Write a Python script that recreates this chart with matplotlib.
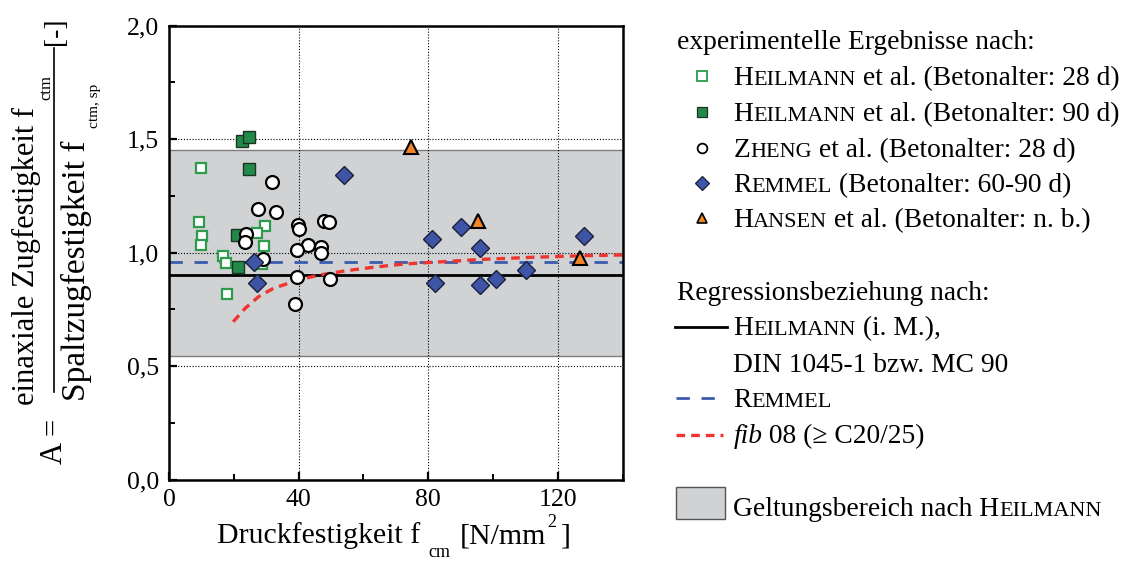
import matplotlib
matplotlib.use('Agg')
import matplotlib.pyplot as plt
from matplotlib.ticker import MultipleLocator, FixedLocator, FixedFormatter
from matplotlib.patches import Rectangle

plt.rcParams['font.family'] = ['Liberation Serif', 'DejaVu Serif']

# ---------------- data ----------------
heil28_x = [9.8, 9.4, 10.2, 10.0, 29.7, 27.2, 29.2, 16.7, 17.6, 28.6, 17.8]
heil28_y = [1.371, 1.134, 1.073, 1.032, 1.118, 1.085, 1.027, 0.986, 0.952, 0.949, 0.817]

heil90_x = [22.5, 24.7, 24.6, 21.1, 21.3]
heil90_y = [1.491, 1.510, 1.367, 1.076, 0.935]

zheng_x = [31.8, 27.4, 32.9, 23.7, 23.5, 39.7, 40.0, 47.7, 49.5, 42.9, 46.9, 46.8, 39.4, 29.0, 39.6, 49.7, 38.9]
zheng_y = [1.312, 1.190, 1.180, 1.081, 1.045, 1.122, 1.105, 1.140, 1.134, 1.033, 1.023, 0.996, 1.011, 0.970, 0.893, 0.883, 0.773]

remmel_x = [54.0, 26.1, 27.2, 81.1, 90.1, 96.0, 128.1, 82.1, 96.0, 100.9, 110.1]
remmel_y = [1.341, 0.957, 0.867, 1.061, 1.114, 1.021, 1.073, 0.864, 0.856, 0.883, 0.923]

hansen_x = [74.6, 95.2, 126.9]
hansen_y = [1.464, 1.139, 0.974]

heil_reg_x = [0, 140]
heil_reg_y = [0.90, 0.90]
remmel_reg_x = [0, 140]
remmel_reg_y = [0.96, 0.96]
fib_x = [19.8, 23.5, 27.6, 32.2, 39.9, 46.5, 54.8, 63.0, 72.3, 81.6, 97.0, 112.4, 127.9, 140.0]
fib_y = [0.695, 0.754, 0.805, 0.842, 0.879, 0.901, 0.920, 0.935, 0.949, 0.957, 0.970, 0.979, 0.986, 0.989]

band_low, band_high = 0.545, 1.45

x_ticks = [0, 40, 80, 120]
x_labels = ['0', '40', '80', '120']
y_ticks = [0.0, 0.5, 1.0, 1.5, 2.0]
y_labels = ['0,0', '0,5', '1,0', '1,5', '2,0']

# ---------------- styles ----------------
GREEN_OPEN = '#2e9a4c'
GREEN_FILL = '#22894a'
BLUE = '#3d55a4'
ORANGE = '#f2842a'
RED = '#ee3530'
BLUE_LINE = '#3b5bad'
BAND = '#d1d2d4'

W, H = 1126, 561
fig = plt.figure(figsize=(W / 100, H / 100), dpi=100)

ax = fig.add_axes([169 / W, 1 - 479.5 / H, (622.7 - 169) / W, (479.5 - 25.5) / H])
ax.set_xlim(0, 140)
ax.set_ylim(0, 2)

ax.axhspan(band_low, band_high, facecolor=BAND, edgecolor='#7f7f7f', lw=1.0, zorder=1)
ax.set_axisbelow('line')
ax.grid(True, which='major', color='black', lw=0.8, linestyle=(0, (1, 1.6)))

ax.plot(heil_reg_x, heil_reg_y, color='black', lw=2.0, zorder=2)
ax.plot(remmel_reg_x, remmel_reg_y, color=BLUE_LINE, lw=2.0, dashes=(4.8, 4.2), zorder=2.1)
ax.plot(fib_x, fib_y, color=RED, lw=2.4, dashes=(2.6, 1.8), zorder=2.2)

ax.plot(heil28_x, heil28_y, 's', ms=7.5, mfc='white', mec=GREEN_OPEN, mew=1.6, ls='none', zorder=3)
ax.plot(heil90_x, heil90_y, 's', ms=8, mfc=GREEN_FILL, mec='#1b3322', mew=1.0, ls='none', zorder=3)
ax.plot(zheng_x, zheng_y, 'o', ms=9.3, mfc='white', mec='black', mew=1.6, ls='none', zorder=3)
ax.plot(remmel_x, remmel_y, 'D', ms=9.3, mfc=BLUE, mec='#1a1f3a', mew=1.0, ls='none', zorder=3)
ax.plot(hansen_x, hansen_y, '^', ms=10, mfc=ORANGE, mec='black', mew=1.5, ls='none', zorder=3)

ax.xaxis.set_major_locator(FixedLocator(x_ticks))
ax.xaxis.set_major_formatter(FixedFormatter(x_labels))
ax.xaxis.set_minor_locator(MultipleLocator(20))
ax.yaxis.set_major_locator(FixedLocator(y_ticks))
ax.yaxis.set_major_formatter(FixedFormatter(y_labels))
ax.yaxis.set_minor_locator(MultipleLocator(0.25))
ax.tick_params(which='both', direction='in', top=False, right=False, labelsize=18.5, pad=7)
ax.tick_params(which='major', length=6, width=1.6)
ax.tick_params(which='minor', length=4, width=1.4)
for sp in ax.spines.values():
    sp.set_linewidth(1.8)

# ---------------- overlay in pixel coordinates ----------------
lax = fig.add_axes([0, 0, 1, 1], zorder=5)
lax.set_xlim(0, W)
lax.set_ylim(H, 0)
lax.axis('off')
lax.patch.set_alpha(0)
renderer = fig.canvas.get_renderer()

BIG = 19.8
SMALL = 16.0


def chain(x, y, pieces):
    for s, fs, style in pieces:
        t = lax.text(x, y, s, fontsize=fs, fontstyle=style, ha='left', va='baseline')
        bb = t.get_window_extent(renderer)
        x += bb.width
    return x


def sc(first, rest, tail=''):
    p = [(first, BIG, 'normal'), (rest, SMALL, 'normal')]
    if tail:
        p.append((tail, BIG, 'normal'))
    return p


# legend: experimental data
chain(677, 49, [('experimentelle Ergebnisse nach:', BIG, 'normal')])
rows = [85, 121, 157, 192, 227]
mk = 701.7
lax.plot([mk], [rows[0] - 9], 's', ms=6.5, mfc='white', mec=GREEN_OPEN, mew=1.3)
lax.plot([mk], [rows[1] - 9], 's', ms=6.5, mfc=GREEN_FILL, mec='#1b3322', mew=0.9)
lax.plot([mk], [rows[2] - 9], 'o', ms=7, mfc='white', mec='black', mew=1.3)
lax.plot([mk], [rows[3] - 9], 'D', ms=7.5, mfc=BLUE, mec='#1a1f3a', mew=0.9)
lax.plot([mk], [rows[4] - 9], '^', ms=7.5, mfc=ORANGE, mec='black', mew=1.2)
tx = 733.3
chain(tx, rows[0], sc('H', 'EILMANN', ' et al. (Betonalter: 28 d)'))
chain(tx, rows[1], sc('H', 'EILMANN', ' et al. (Betonalter: 90 d)'))
chain(tx, rows[2], sc('Z', 'HENG', ' et al. (Betonalter: 28 d)'))
chain(tx, rows[3], sc('R', 'EMMEL', ' (Betonalter: 60-90 d)'))
chain(tx, rows[4], sc('H', 'ANSEN', ' et al. (Betonalter: n. b.)'))

# legend: regressions
chain(677, 300, [('Regressionsbeziehung nach:', BIG, 'normal')])
lax.plot([675, 727], [326.5, 326.5], color='black', lw=2.0)
chain(tx, 335, sc('H', 'EILMANN', ' (i. M.),'))
chain(tx, 371.5, [('DIN 1045-1 bzw. MC 90', BIG, 'normal')])
lax.plot([676, 720], [397.5, 397.5], color=BLUE_LINE, lw=2.0, dashes=(4.8, 4.2))
chain(tx, 406.5, sc('R', 'EMMEL'))
lax.plot([676, 723], [434.5, 434.5], color=RED, lw=2.4, dashes=(2.6, 1.8))
chain(tx, 443, [('fib', BIG, 'italic'), (' 08 (\u2265 C20/25)', BIG, 'normal')])

lax.add_patch(Rectangle((676, 487), 49, 32, facecolor=BAND, edgecolor='#555555', lw=1.0))
chain(tx, 516.5, [('Geltungsbereich nach H', BIG, 'normal'), ('EILMANN', SMALL, 'normal')])

# x label
XL = 21.5
lax.text(217, 543, 'Druckfestigkeit f', fontsize=XL, ha='left', va='baseline')
lax.text(428, 557, 'cm', fontsize=13, ha='left', va='baseline')
lax.text(460, 543, '[N/mm', fontsize=XL, ha='left', va='baseline')
lax.text(547, 527, '2', fontsize=13, ha='left', va='baseline')
lax.text(561, 543, ']', fontsize=XL, ha='left', va='baseline')

# y label (rotated fraction)
kw = dict(rotation=90, rotation_mode='anchor', ha='left', va='baseline')
lax.text(34, 405, 'einaxiale Zugfestigkeit f', fontsize=22, **kw)
lax.text(50, 100, 'ctm', fontsize=12, **kw)
lax.plot([54, 54], [48, 392], color='black', lw=1.2)
lax.text(85, 401, 'Spaltzugfestigkeit f', fontsize=24, **kw)
lax.text(98, 128, 'ctm, sp', fontsize=11, **kw)
lax.text(56, 31, '[-]', fontsize=20, rotation=90, ha='center', va='center')
lax.text(54, 441, 'A =', fontsize=22, rotation=90, ha='center', va='center')

fig.savefig('out.png', dpi=100)
